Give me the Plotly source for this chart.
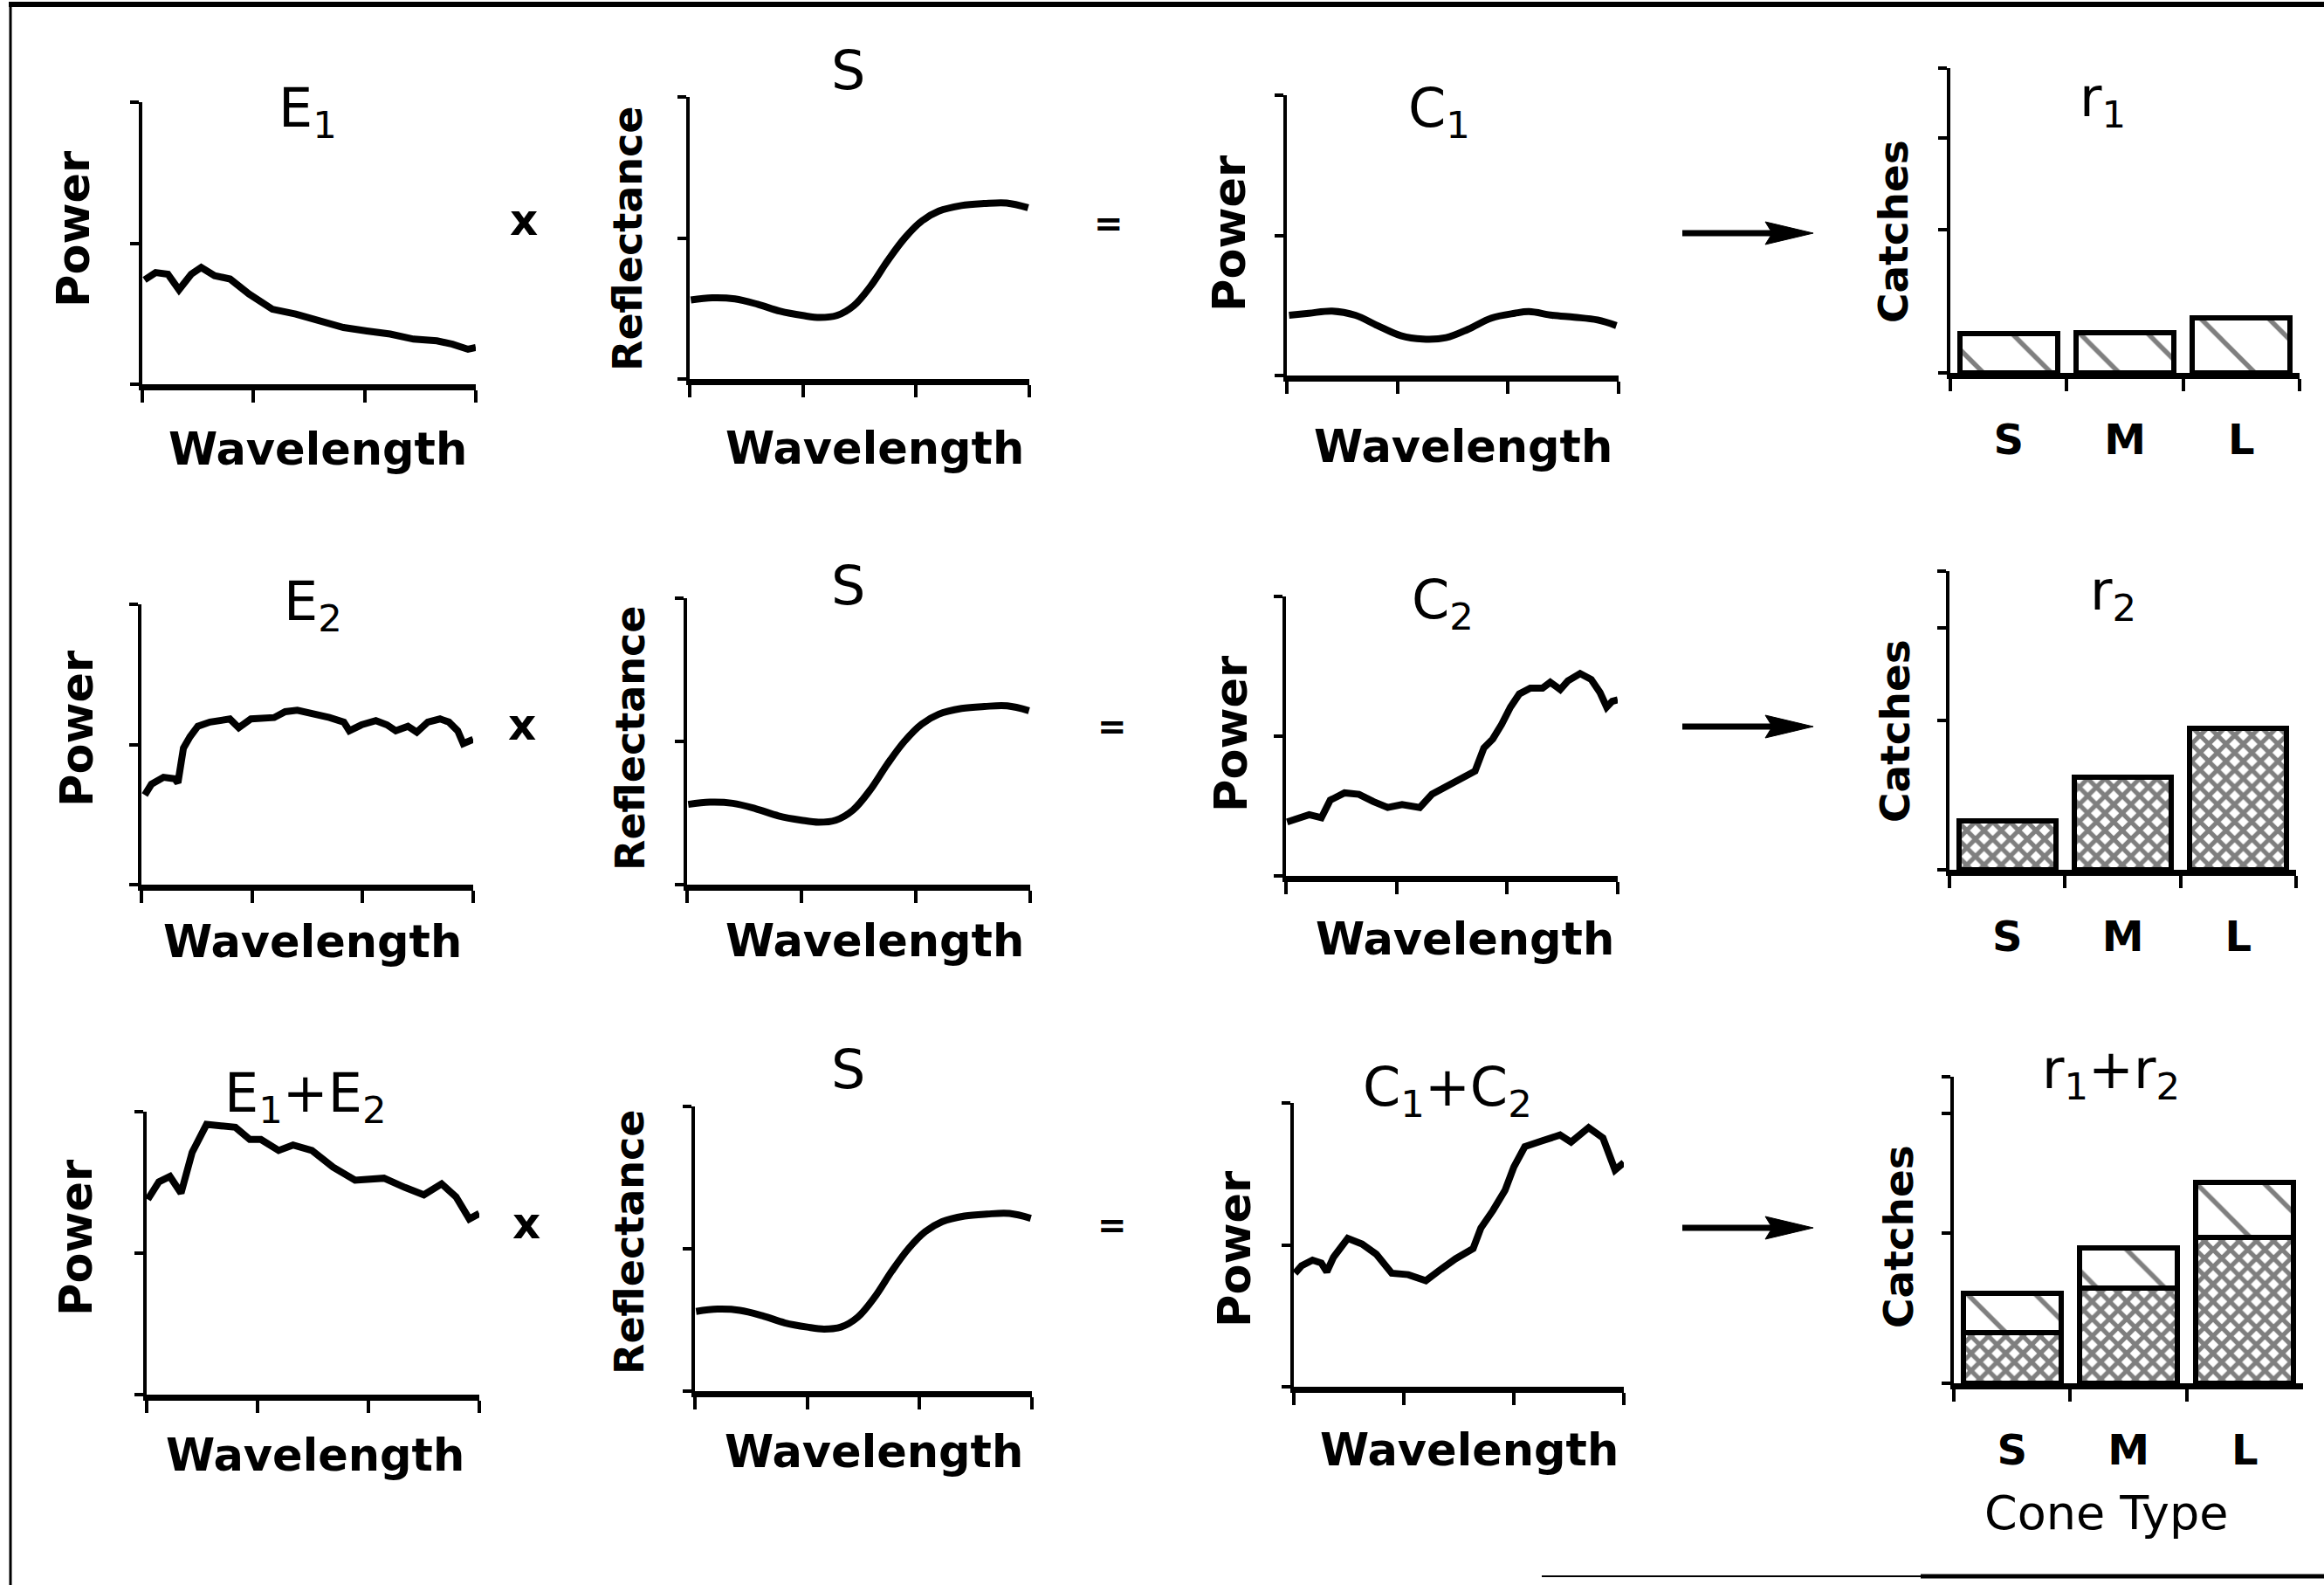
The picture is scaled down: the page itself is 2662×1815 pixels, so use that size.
import plotly.graph_objects as go

W, H = 2662, 1815

# ---------------- data ----------------
wavelength_ticks = [400, 500, 600, 700]
power_ticks = [0, 0.5, 1]

e1_wl = [402, 412, 423, 433, 444, 453, 465, 479, 496, 517, 538, 560, 581, 602, 623, 644, 665, 679, 693, 700]
e1_power = [0.37, 0.396, 0.39, 0.335, 0.39, 0.414, 0.385, 0.373, 0.32, 0.266, 0.249, 0.225, 0.201,
            0.189, 0.178, 0.16, 0.154, 0.142, 0.124, 0.13]

e2_wl = [403, 409, 420, 430, 433, 438, 444, 451, 462, 480, 488, 499, 520, 530, 541, 557, 570, 583,
         588, 599, 612, 622, 630, 641, 649, 659, 670, 678, 686, 691, 700]
e2_power = [0.32, 0.358, 0.383, 0.378, 0.363, 0.487, 0.528, 0.565, 0.58, 0.591, 0.56, 0.591, 0.596,
            0.617, 0.622, 0.611, 0.596, 0.58, 0.549, 0.57, 0.585, 0.57, 0.549, 0.565, 0.544, 0.58,
            0.591, 0.58, 0.549, 0.503, 0.518]

e12_wl = [401, 411, 421, 431, 441, 454, 467, 480, 493, 503, 519, 532, 549, 568, 588, 614, 633, 650,
          666, 679, 691, 700]
e12_power = [0.69, 0.752, 0.771, 0.712, 0.856, 0.955, 0.95, 0.945, 0.902, 0.902, 0.863, 0.882, 0.863,
             0.804, 0.758, 0.765, 0.732, 0.706, 0.745, 0.699, 0.621, 0.64]

s_wl = [401, 420, 440, 460, 480, 500, 515, 530, 545, 560, 575, 590, 605, 620, 640, 660, 680, 699]
s_reflectance = [0.28, 0.288, 0.284, 0.265, 0.24, 0.225, 0.218, 0.225, 0.26, 0.33, 0.42, 0.5,
                 0.56, 0.595, 0.615, 0.622, 0.624, 0.607]

c1_wl = [402, 420, 441, 462, 482, 503, 523, 544, 564, 585, 606, 619, 640, 660, 681, 698]
c1_power = [0.215, 0.222, 0.23, 0.215, 0.178, 0.142, 0.13, 0.135, 0.165, 0.205, 0.222, 0.228,
            0.215, 0.208, 0.198, 0.178]

c2_wl = [401, 411, 421, 432, 440, 453, 466, 479, 492, 505, 521, 532, 547, 561, 571, 579, 587, 595,
         603, 611, 621, 632, 639, 648, 655, 666, 676, 684, 690, 695, 700]
c2_power = [0.193, 0.208, 0.219, 0.208, 0.271, 0.297, 0.292, 0.266, 0.245, 0.255, 0.245, 0.292,
            0.323, 0.349, 0.375, 0.458, 0.49, 0.542, 0.604, 0.651, 0.672, 0.672, 0.693, 0.667,
            0.698, 0.724, 0.703, 0.656, 0.604, 0.625, 0.63]

c12_wl = [401, 407, 417, 425, 430, 436, 449, 462, 475, 489, 504, 520, 534, 547, 563, 570, 581, 592,
          600, 610, 626, 642, 652, 668, 681, 690, 692, 700]
c12_power = [0.4, 0.426, 0.446, 0.436, 0.405, 0.456, 0.523, 0.503, 0.467, 0.4, 0.395, 0.374, 0.415,
             0.451, 0.487, 0.559, 0.621, 0.692, 0.774, 0.846, 0.867, 0.887, 0.862, 0.913, 0.877,
             0.795, 0.764, 0.79]

cones = ["S", "M", "L"]
r1_catches = [0.128, 0.133, 0.18]
r2_catches = [0.165, 0.31, 0.475]

# ---------------- layout helpers ----------------
FONT = dict(family="DejaVu Sans", color="black")

# panel boxes in page pixels: x0, x1, ytop, ybottom
panels = {
    1: (163, 545, 117, 440), 2: (790, 1179, 111, 434), 3: (1474, 1854, 109, 430), 4: (2234, 2634, 78, 427),
    5: (162, 542, 692, 1013), 6: (787, 1180, 685, 1013), 7: (1473, 1853, 683, 1003), 8: (2233, 2630, 654, 996),
    9: (168, 549, 1273, 1597), 10: (796, 1182, 1267, 1593), 11: (1482, 1860, 1263, 1588), 12: (2238, 2638, 1233, 1584),
}
catch_ticks = {4: [0.47, 0.77], 8: [0.5, 0.81], 12: [0.49, 0.88]}


def ax_name(kind, i):
    return f"{kind}axis" if i == 1 else f"{kind}axis{i}"


def ref(kind, i):
    return kind if i == 1 else f"{kind}{i}"


fig = go.Figure()
layout_axes = {}

for i, (x0, x1, yt, yb) in panels.items():
    xd = [x0 / W, x1 / W]
    yd = [1 - yb / H, 1 - yt / H]
    common = dict(showgrid=False, zeroline=False, showline=True, linecolor="black",
                  tickcolor="black", ticks="outside", fixedrange=True)
    if i in catch_ticks:
        layout_axes[ax_name("x", i)] = dict(
            domain=xd, anchor=ref("y", i), type="category", categoryorder="array",
            categoryarray=cones, range=[-0.5, 2.5], tickson="boundaries", ticklen=14, tickwidth=4,
            linewidth=7, showticklabels=True, tickfont=dict(size=48, weight="bold", **FONT),
            ticklabelstandoff=28, **common)
        layout_axes[ax_name("y", i)] = dict(
            domain=yd, anchor=ref("x", i), range=[0, 1], tickvals=[0] + catch_ticks[i] + [1],
            showticklabels=False, ticklen=10, tickwidth=4, linewidth=4, **common)
    else:
        layout_axes[ax_name("x", i)] = dict(
            domain=xd, anchor=ref("y", i), range=[400, 700], tickvals=wavelength_ticks,
            showticklabels=False, ticklen=14, tickwidth=4, linewidth=7, **common)
        layout_axes[ax_name("y", i)] = dict(
            domain=yd, anchor=ref("x", i), range=[0, 1], tickvals=power_ticks,
            showticklabels=False, ticklen=10, tickwidth=4, linewidth=4, **common)

curves = {1: (e1_wl, e1_power, "linear"), 2: (s_wl, s_reflectance, "spline"),
          3: (c1_wl, c1_power, "spline"), 5: (e2_wl, e2_power, "linear"),
          6: (s_wl, s_reflectance, "spline"), 7: (c2_wl, c2_power, "linear"),
          9: (e12_wl, e12_power, "linear"), 10: (s_wl, s_reflectance, "spline"),
          11: (c12_wl, c12_power, "linear")}

for i, (xs, ys, shape) in curves.items():
    fig.add_trace(go.Scatter(x=xs, y=ys, mode="lines", line=dict(color="black", width=8, shape=shape),
                             xaxis=ref("x", i), yaxis=ref("y", i), hoverinfo="skip"))

hatch = dict(color="white", line=dict(color="black", width=6),
             pattern=dict(shape="\\", size=55, solidity=0.1, fgcolor="black", bgcolor="white"))
stipple = dict(color="white", line=dict(color="black", width=6),
               pattern=dict(shape="x", size=14, solidity=0.6, fgcolor="black", bgcolor="white"))

fig.add_trace(go.Bar(x=cones, y=r1_catches, width=0.84, marker=hatch, xaxis="x4", yaxis="y4"))
fig.add_trace(go.Bar(x=cones, y=r2_catches, width=0.84, marker=stipple, xaxis="x8", yaxis="y8"))
fig.add_trace(go.Bar(x=cones, y=r2_catches, width=0.84, marker=stipple, xaxis="x12", yaxis="y12"))
fig.add_trace(go.Bar(x=cones, y=r1_catches, width=0.84, marker=hatch, xaxis="x12", yaxis="y12"))

# ---------------- text ----------------
ann = []


def text(x, y, s, size, angle=0):
    ann.append(dict(x=x / W, y=1 - y / H, xref="paper", yref="paper", text=s, showarrow=False,
                    xanchor="center", yanchor="middle", font=dict(size=size, **FONT), textangle=angle))


titles = [
    (352, 128, "E<sub>1</sub>"), (971, 80, "S"), (1648, 128, "C<sub>1</sub>"), (2408, 116, "r<sub>1</sub>"),
    (358, 692, "E<sub>2</sub>"), (971, 671, "S"), (1652, 690, "C<sub>2</sub>"), (2420, 680, "r<sub>2</sub>"),
    (350, 1255, "E<sub>1</sub>+E<sub>2</sub>"), (971, 1224, "S"),
    (1658, 1248, "C<sub>1</sub>+C<sub>2</sub>"), (2418, 1228, "r<sub>1</sub>+r<sub>2</sub>"),
]
for x, y, s in titles:
    text(x, y, s, 62)

for x, y in [(364, 514), (1002, 513), (1676, 512), (358, 1078), (1002, 1077), (1678, 1075),
             (361, 1666), (1001, 1662), (1683, 1660)]:
    text(x, y, "<b>Wavelength</b>", 51)

for x, y in [(84, 263), (1409, 268), (88, 835), (1410, 840), (87, 1418), (1414, 1431)]:
    text(x, y, "<b>Power</b>", 51, -90)
for x, y in [(719, 273), (722, 846), (721, 1423)]:
    text(x, y, "<b>Reflectance</b>", 46, -90)
for x, y in [(2168, 265), (2170, 837), (2174, 1416)]:
    text(x, y, "<b>Catches</b>", 47, -90)

text(2412, 1732, "Cone Type", 54)

for x, y in [(600, 252), (598, 830), (603, 1401)]:
    text(x, y, "<b>x</b>", 50)
for x, y in [(1270, 256), (1274, 832), (1274, 1403)]:
    text(x, y, "<b>=</b>", 40)

# ---------------- shapes: arrows + frame ----------------
shapes = []


def px(x):
    return x / W


def py(y):
    return 1 - y / H


for ya in [267, 832, 1406]:
    shapes.append(dict(type="line", xref="paper", yref="paper", x0=px(1927), x1=px(2035),
                       y0=py(ya), y1=py(ya), line=dict(color="black", width=7)))
    path = (f"M {px(2077)},{py(ya)} L {px(2022)},{py(ya - 13)} L {px(2030)},{py(ya)} "
            f"L {px(2022)},{py(ya + 13)} Z")
    shapes.append(dict(type="path", xref="paper", yref="paper", path=path,
                       fillcolor="black", line=dict(color="black", width=1)))

shapes.append(dict(type="line", xref="paper", yref="paper", x0=px(10), x1=1, y0=py(5), y1=py(5),
                   line=dict(color="black", width=6)))
shapes.append(dict(type="line", xref="paper", yref="paper", x0=px(12), x1=px(12), y0=py(3), y1=0,
                   line=dict(color="black", width=3)))
shapes.append(dict(type="line", xref="paper", yref="paper", x0=px(1766), x1=px(2200), y0=py(1805),
                   y1=py(1805), line=dict(color="black", width=2)))
shapes.append(dict(type="line", xref="paper", yref="paper", x0=px(2200), x1=1, y0=py(1805),
                   y1=py(1805), line=dict(color="black", width=5)))

fig.update_layout(width=W, height=H, margin=dict(l=0, r=0, t=0, b=0), paper_bgcolor="white",
                  plot_bgcolor="white", showlegend=False, barmode="stack", annotations=ann,
                  shapes=shapes, **layout_axes)

fig.write_html("out.html")
